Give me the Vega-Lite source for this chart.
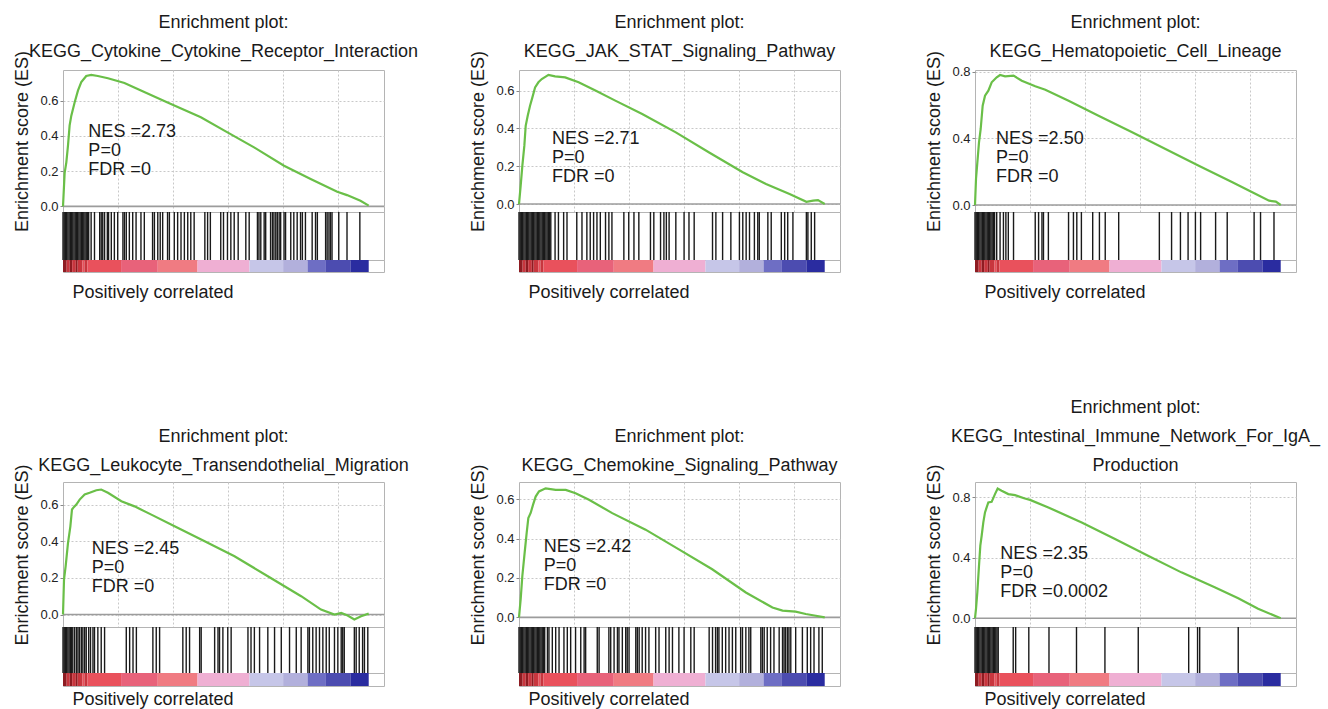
{
"$schema":"https://vega.github.io/schema/vega-lite/v6.json",
"padding":{"left":13,"top":13,"right":0,"bottom":0},
"background":"white",
"config":{
 "font":"Liberation Sans",
 "view":{"stroke":"#b4b4b4"},
 "axis":{"labelFont":"Liberation Sans","labelFontSize":13,"labelColor":"#222","titleFont":"Liberation Sans","titleFontSize":18,"titleFontWeight":"normal","titleColor":"#1a1a1a","domain":false,"tickColor":"#888","tickSize":3,"labelPadding":2,"gridColor":"#c8c8c8","gridDash":[2,2],"titlePadding":8},
 "title":{"font":"Liberation Sans","fontSize":18,"fontWeight":"normal","color":"#1a1a1a","lineHeight":29,"offset":-11,"anchor":"middle"},
 "text":{"font":"Liberation Sans","color":"#1a1a1a"}
},
"datasets":{
"es":[
{"p":1,"x":0,"y":0},{"p":1,"x":0.54,"y":0.19},{"p":1,"x":1.09,"y":0.25},{"p":1,"x":1.63,"y":0.345},{"p":1,"x":2.17,"y":0.46},{"p":1,"x":2.72,"y":0.515},{"p":1,"x":3.8,"y":0.59},{"p":1,"x":4.89,"y":0.657},{"p":1,"x":5.98,"y":0.705},{"p":1,"x":7.6,"y":0.74},{"p":1,"x":9.24,"y":0.746},{"p":1,"x":11.4,"y":0.74},{"p":1,"x":14.7,"y":0.727},{"p":1,"x":20.1,"y":0.7},{"p":1,"x":25.5,"y":0.657},{"p":1,"x":34.2,"y":0.59},{"p":1,"x":45.1,"y":0.506},{"p":1,"x":53.8,"y":0.42},{"p":1,"x":62.5,"y":0.335},{"p":1,"x":72.3,"y":0.231},{"p":1,"x":81.0,"y":0.155},{"p":1,"x":89.7,"y":0.083},{"p":1,"x":92.9,"y":0.064},{"p":1,"x":97.3,"y":0.032},{"p":1,"x":100,"y":0.004},
{"p":2,"x":0,"y":0},{"p":2,"x":0.55,"y":0.097},{"p":2,"x":1.1,"y":0.203},{"p":2,"x":1.75,"y":0.309},{"p":2,"x":2.19,"y":0.414},{"p":2,"x":2.85,"y":0.467},{"p":2,"x":3.61,"y":0.52},{"p":2,"x":4.38,"y":0.564},{"p":2,"x":5.26,"y":0.617},{"p":2,"x":6.35,"y":0.644},{"p":2,"x":7.45,"y":0.661},{"p":2,"x":9.64,"y":0.683},{"p":2,"x":11.8,"y":0.675},{"p":2,"x":15.1,"y":0.67},{"p":2,"x":19.5,"y":0.644},{"p":2,"x":25.0,"y":0.6},{"p":2,"x":31.5,"y":0.547},{"p":2,"x":40.3,"y":0.476},{"p":2,"x":51.3,"y":0.379},{"p":2,"x":62.2,"y":0.273},{"p":2,"x":73.2,"y":0.168},{"p":2,"x":80.8,"y":0.106},{"p":2,"x":88.5,"y":0.053},{"p":2,"x":94.0,"y":0.012},{"p":2,"x":96.2,"y":0.018},{"p":2,"x":97.8,"y":0.021},{"p":2,"x":100,"y":0},
{"p":3,"x":0,"y":0},{"p":3,"x":0.33,"y":0.156},{"p":3,"x":0.77,"y":0.256},{"p":3,"x":1.31,"y":0.376},{"p":3,"x":1.86,"y":0.456},{"p":3,"x":2.51,"y":0.596},{"p":3,"x":3.28,"y":0.656},{"p":3,"x":4.37,"y":0.686},{"p":3,"x":5.46,"y":0.736},{"p":3,"x":7.1,"y":0.766},{"p":3,"x":8.2,"y":0.78},{"p":3,"x":9.84,"y":0.772},{"p":3,"x":12.6,"y":0.776},{"p":3,"x":15.3,"y":0.746},{"p":3,"x":19.7,"y":0.712},{"p":3,"x":23.0,"y":0.692},{"p":3,"x":30.6,"y":0.626},{"p":3,"x":40.4,"y":0.536},{"p":3,"x":51.4,"y":0.436},{"p":3,"x":62.3,"y":0.336},{"p":3,"x":73.2,"y":0.236},{"p":3,"x":84.2,"y":0.136},{"p":3,"x":90.7,"y":0.076},{"p":3,"x":96.2,"y":0.026},{"p":3,"x":98.4,"y":0.02},{"p":3,"x":100,"y":0},
{"p":4,"x":0,"y":0},{"p":4,"x":0.33,"y":0.19},{"p":4,"x":0.87,"y":0.264},{"p":4,"x":1.63,"y":0.39},{"p":4,"x":2.4,"y":0.48},{"p":4,"x":2.94,"y":0.573},{"p":4,"x":3.6,"y":0.587},{"p":4,"x":4.36,"y":0.6},{"p":4,"x":5.45,"y":0.627},{"p":4,"x":7.08,"y":0.655},{"p":4,"x":8.71,"y":0.664},{"p":4,"x":10.9,"y":0.678},{"p":4,"x":12.5,"y":0.682},{"p":4,"x":14.7,"y":0.664},{"p":4,"x":19.1,"y":0.618},{"p":4,"x":23.4,"y":0.59},{"p":4,"x":28.9,"y":0.545},{"p":4,"x":36.5,"y":0.482},{"p":4,"x":45.2,"y":0.409},{"p":4,"x":56.1,"y":0.318},{"p":4,"x":67.0,"y":0.209},{"p":4,"x":77.9,"y":0.1},{"p":4,"x":84.4,"y":0.027},{"p":4,"x":88.8,"y":0},{"p":4,"x":91.0,"y":0.009},{"p":4,"x":93.1,"y":-0.005},{"p":4,"x":95.3,"y":-0.027},{"p":4,"x":97.5,"y":-0.009},{"p":4,"x":100,"y":0.005},
{"p":5,"x":0,"y":0},{"p":5,"x":0.55,"y":0.092},{"p":5,"x":1.09,"y":0.21},{"p":5,"x":1.85,"y":0.328},{"p":5,"x":2.51,"y":0.429},{"p":5,"x":3.05,"y":0.504},{"p":5,"x":3.82,"y":0.53},{"p":5,"x":4.58,"y":0.571},{"p":5,"x":5.45,"y":0.613},{"p":5,"x":6.54,"y":0.639},{"p":5,"x":8.72,"y":0.655},{"p":5,"x":12.0,"y":0.647},{"p":5,"x":15.3,"y":0.647},{"p":5,"x":18.5,"y":0.63},{"p":5,"x":22.9,"y":0.597},{"p":5,"x":30.5,"y":0.529},{"p":5,"x":41.4,"y":0.445},{"p":5,"x":52.3,"y":0.345},{"p":5,"x":63.2,"y":0.244},{"p":5,"x":74.2,"y":0.126},{"p":5,"x":82.9,"y":0.05},{"p":5,"x":86.2,"y":0.034},{"p":5,"x":90.5,"y":0.029},{"p":5,"x":93.8,"y":0.017},{"p":5,"x":97.1,"y":0.008},{"p":5,"x":100,"y":0},
{"p":6,"x":0,"y":0},{"p":6,"x":0.33,"y":0.062},{"p":6,"x":0.76,"y":0.171},{"p":6,"x":1.31,"y":0.347},{"p":6,"x":1.74,"y":0.479},{"p":6,"x":2.18,"y":0.545},{"p":6,"x":2.72,"y":0.633},{"p":6,"x":3.27,"y":0.699},{"p":6,"x":3.81,"y":0.732},{"p":6,"x":4.36,"y":0.765},{"p":6,"x":5.45,"y":0.769},{"p":6,"x":6.54,"y":0.82},{"p":6,"x":7.41,"y":0.857},{"p":6,"x":8.71,"y":0.842},{"p":6,"x":10.9,"y":0.82},{"p":6,"x":13.1,"y":0.813},{"p":6,"x":16.3,"y":0.791},{"p":6,"x":18.0,"y":0.782},{"p":6,"x":24.0,"y":0.732},{"p":6,"x":34.9,"y":0.633},{"p":6,"x":45.8,"y":0.523},{"p":6,"x":56.6,"y":0.413},{"p":6,"x":67.5,"y":0.303},{"p":6,"x":78.4,"y":0.204},{"p":6,"x":86.1,"y":0.132},{"p":6,"x":92.6,"y":0.062},{"p":6,"x":100,"y":0}
],
"hits":[
{"p":1,"x":0},{"p":1,"x":0.4},{"p":1,"x":0.8},{"p":1,"x":1.2},{"p":1,"x":1.6},{"p":1,"x":2},{"p":1,"x":2.4},{"p":1,"x":2.8},{"p":1,"x":3.2},{"p":1,"x":3.6},{"p":1,"x":4},{"p":1,"x":4.4},{"p":1,"x":4.8},{"p":1,"x":5.2},{"p":1,"x":5.6},{"p":1,"x":6},{"p":1,"x":6.4},{"p":1,"x":6.8},{"p":1,"x":7.2},{"p":1,"x":7.6},{"p":1,"x":8},{"p":1,"x":8.4},
{"p":1,"x":9.2},{"p":1,"x":10.3},{"p":1,"x":12.0},{"p":1,"x":12.5},{"p":1,"x":13.0},{"p":1,"x":13.6},{"p":1,"x":14.5},{"p":1,"x":14.9},{"p":1,"x":15.8},{"p":1,"x":16.8},{"p":1,"x":17.9},{"p":1,"x":19.6},{"p":1,"x":20.1},{"p":1,"x":20.7},{"p":1,"x":21.7},{"p":1,"x":22.8},{"p":1,"x":23.9},{"p":1,"x":25.5},{"p":1,"x":26.6},{"p":1,"x":29.3},{"p":1,"x":29.9},{"p":1,"x":31.0},{"p":1,"x":31.8},{"p":1,"x":32.6},{"p":1,"x":34.2},{"p":1,"x":34.8},{"p":1,"x":36.4},{"p":1,"x":37.5},{"p":1,"x":38.6},{"p":1,"x":39.7},{"p":1,"x":40.8},{"p":1,"x":41.8},{"p":1,"x":42.9},{"p":1,"x":46.4},{"p":1,"x":47.3},{"p":1,"x":48.2},{"p":1,"x":51.6},{"p":1,"x":52.5},{"p":1,"x":53.8},{"p":1,"x":54.9},{"p":1,"x":56.0},{"p":1,"x":57.3},{"p":1,"x":59.8},{"p":1,"x":60.9},{"p":1,"x":63.6},{"p":1,"x":64.1},{"p":1,"x":64.7},{"p":1,"x":65.8},{"p":1,"x":66.3},{"p":1,"x":67.9},{"p":1,"x":68.5},{"p":1,"x":69.0},{"p":1,"x":69.6},{"p":1,"x":70.1},{"p":1,"x":70.7},{"p":1,"x":71.2},{"p":1,"x":72.3},{"p":1,"x":72.8},{"p":1,"x":74.5},{"p":1,"x":75.5},{"p":1,"x":76.6},{"p":1,"x":77.7},{"p":1,"x":78.3},{"p":1,"x":79.3},{"p":1,"x":81.5},{"p":1,"x":82.6},{"p":1,"x":83.2},{"p":1,"x":85.9},{"p":1,"x":86.4},{"p":1,"x":87.0},{"p":1,"x":87.5},{"p":1,"x":88.0},{"p":1,"x":90.2},{"p":1,"x":92.9},{"p":1,"x":97.1},
{"p":2,"x":0},{"p":2,"x":0.4},{"p":2,"x":0.8},{"p":2,"x":1.2},{"p":2,"x":1.6},{"p":2,"x":2},{"p":2,"x":2.4},{"p":2,"x":2.8},{"p":2,"x":3.2},{"p":2,"x":3.6},{"p":2,"x":4},{"p":2,"x":4.4},{"p":2,"x":4.8},{"p":2,"x":5.2},{"p":2,"x":5.6},{"p":2,"x":6},{"p":2,"x":6.4},{"p":2,"x":6.8},{"p":2,"x":7.2},{"p":2,"x":7.6},{"p":2,"x":8},{"p":2,"x":8.4},{"p":2,"x":8.8},{"p":2,"x":9.2},{"p":2,"x":9.6},{"p":2,"x":10},{"p":2,"x":10.4},
{"p":2,"x":11.8},{"p":2,"x":12.9},{"p":2,"x":14.6},{"p":2,"x":15.7},{"p":2,"x":18.9},{"p":2,"x":20.6},{"p":2,"x":22.2},{"p":2,"x":23.3},{"p":2,"x":24.4},{"p":2,"x":25.5},{"p":2,"x":26.6},{"p":2,"x":28.3},{"p":2,"x":29.4},{"p":2,"x":30.4},{"p":2,"x":34.3},{"p":2,"x":35.9},{"p":2,"x":37.6},{"p":2,"x":39.2},{"p":2,"x":43.0},{"p":2,"x":44.1},{"p":2,"x":46.3},{"p":2,"x":47.4},{"p":2,"x":48.2},{"p":2,"x":49.1},{"p":2,"x":51.3},{"p":2,"x":54.0},{"p":2,"x":55.6},{"p":2,"x":57.3},{"p":2,"x":63.3},{"p":2,"x":64.4},{"p":2,"x":66.6},{"p":2,"x":69.3},{"p":2,"x":72.1},{"p":2,"x":73.2},{"p":2,"x":74.3},{"p":2,"x":75.4},{"p":2,"x":77.0},{"p":2,"x":78.1},{"p":2,"x":78.6},{"p":2,"x":81.4},{"p":2,"x":82.5},{"p":2,"x":85.8},{"p":2,"x":86.9},{"p":2,"x":87.9},{"p":2,"x":89.6},{"p":2,"x":94.0},{"p":2,"x":94.5},{"p":2,"x":95.6},{"p":2,"x":96.7},
{"p":3,"x":0},{"p":3,"x":0.4},{"p":3,"x":0.8},{"p":3,"x":1.2},{"p":3,"x":1.6},{"p":3,"x":2},{"p":3,"x":2.4},{"p":3,"x":2.8},{"p":3,"x":3.2},{"p":3,"x":3.6},{"p":3,"x":4},{"p":3,"x":4.4},{"p":3,"x":4.8},{"p":3,"x":5.2},{"p":3,"x":5.6},{"p":3,"x":6},{"p":3,"x":6.4},
{"p":3,"x":7.1},{"p":3,"x":8.2},{"p":3,"x":9.3},{"p":3,"x":10.1},{"p":3,"x":10.9},{"p":3,"x":12.6},{"p":3,"x":19.7},{"p":3,"x":20.8},{"p":3,"x":21.9},{"p":3,"x":22.4},{"p":3,"x":24.0},{"p":3,"x":30.6},{"p":3,"x":32.2},{"p":3,"x":33.3},{"p":3,"x":34.8},{"p":3,"x":38.5},{"p":3,"x":40.7},{"p":3,"x":42.6},{"p":3,"x":47.0},{"p":3,"x":60.3},{"p":3,"x":64.3},{"p":3,"x":67.2},{"p":3,"x":69.7},{"p":3,"x":72.1},{"p":3,"x":73.8},{"p":3,"x":78.7},{"p":3,"x":82.5},{"p":3,"x":91.3},{"p":3,"x":93.4},{"p":3,"x":97.8},
{"p":4,"x":0},{"p":4,"x":0.4},{"p":4,"x":0.8},{"p":4,"x":1.2},{"p":4,"x":1.6},{"p":4,"x":2},{"p":4,"x":2.4},{"p":4,"x":2.8},{"p":4,"x":3.2},
{"p":4,"x":3.8},{"p":4,"x":4.4},{"p":4,"x":4.9},{"p":4,"x":5.4},{"p":4,"x":6.0},{"p":4,"x":6.5},{"p":4,"x":7.1},{"p":4,"x":7.6},{"p":4,"x":8.4},{"p":4,"x":9.0},{"p":4,"x":9.8},{"p":4,"x":10.3},{"p":4,"x":11.4},{"p":4,"x":12.5},{"p":4,"x":13.6},{"p":4,"x":20.7},{"p":4,"x":21.8},{"p":4,"x":22.9},{"p":4,"x":24.0},{"p":4,"x":29.4},{"p":4,"x":30.5},{"p":4,"x":31.6},{"p":4,"x":39.2},{"p":4,"x":40.3},{"p":4,"x":41.4},{"p":4,"x":44.7},{"p":4,"x":45.2},{"p":4,"x":49.6},{"p":4,"x":50.7},{"p":4,"x":51.2},{"p":4,"x":52.3},{"p":4,"x":53.9},{"p":4,"x":55.0},{"p":4,"x":60.5},{"p":4,"x":61.5},{"p":4,"x":62.6},{"p":4,"x":64.3},{"p":4,"x":67.0},{"p":4,"x":69.2},{"p":4,"x":71.4},{"p":4,"x":74.1},{"p":4,"x":76.3},{"p":4,"x":77.9},{"p":4,"x":80.1},{"p":4,"x":80.6},{"p":4,"x":81.7},{"p":4,"x":82.8},{"p":4,"x":83.9},{"p":4,"x":85.0},{"p":4,"x":86.1},{"p":4,"x":87.1},{"p":4,"x":88.8},{"p":4,"x":89.9},{"p":4,"x":91.0},{"p":4,"x":91.5},{"p":4,"x":92.0},{"p":4,"x":95.3},{"p":4,"x":95.9},{"p":4,"x":96.9},{"p":4,"x":98.0},{"p":4,"x":98.6},{"p":4,"x":99.7},
{"p":5,"x":0},{"p":5,"x":0.4},{"p":5,"x":0.8},{"p":5,"x":1.2},{"p":5,"x":1.6},{"p":5,"x":2},{"p":5,"x":2.4},{"p":5,"x":2.8},{"p":5,"x":3.2},{"p":5,"x":3.6},{"p":5,"x":4},{"p":5,"x":4.4},{"p":5,"x":4.8},{"p":5,"x":5.2},{"p":5,"x":5.6},{"p":5,"x":6},{"p":5,"x":6.4},{"p":5,"x":6.8},{"p":5,"x":7.2},{"p":5,"x":7.6},{"p":5,"x":8},{"p":5,"x":8.4},
{"p":5,"x":9.3},{"p":5,"x":9.8},{"p":5,"x":10.9},{"p":5,"x":12.0},{"p":5,"x":13.1},{"p":5,"x":14.7},{"p":5,"x":15.8},{"p":5,"x":16.9},{"p":5,"x":18.5},{"p":5,"x":20.2},{"p":5,"x":21.3},{"p":5,"x":21.8},{"p":5,"x":25.6},{"p":5,"x":26.2},{"p":5,"x":29.4},{"p":5,"x":30.0},{"p":5,"x":31.1},{"p":5,"x":32.2},{"p":5,"x":32.7},{"p":5,"x":33.8},{"p":5,"x":34.9},{"p":5,"x":35.4},{"p":5,"x":36.0},{"p":5,"x":38.2},{"p":5,"x":38.7},{"p":5,"x":39.3},{"p":5,"x":40.3},{"p":5,"x":41.4},{"p":5,"x":42.5},{"p":5,"x":44.7},{"p":5,"x":45.8},{"p":5,"x":48.0},{"p":5,"x":49.1},{"p":5,"x":50.2},{"p":5,"x":52.3},{"p":5,"x":54.0},{"p":5,"x":56.2},{"p":5,"x":57.3},{"p":5,"x":62.2},{"p":5,"x":63.3},{"p":5,"x":64.3},{"p":5,"x":64.9},{"p":5,"x":65.4},{"p":5,"x":66.5},{"p":5,"x":67.6},{"p":5,"x":68.7},{"p":5,"x":69.8},{"p":5,"x":70.9},{"p":5,"x":72.5},{"p":5,"x":73.1},{"p":5,"x":74.2},{"p":5,"x":75.2},{"p":5,"x":75.8},{"p":5,"x":79.1},{"p":5,"x":79.6},{"p":5,"x":80.2},{"p":5,"x":81.2},{"p":5,"x":82.3},{"p":5,"x":83.4},{"p":5,"x":85.1},{"p":5,"x":86.2},{"p":5,"x":86.7},{"p":5,"x":87.2},{"p":5,"x":87.8},{"p":5,"x":88.3},{"p":5,"x":88.9},{"p":5,"x":90.5},{"p":5,"x":92.7},{"p":5,"x":94.3},{"p":5,"x":95.4},{"p":5,"x":96.5},{"p":5,"x":98.1},{"p":5,"x":99.2},
{"p":6,"x":0},{"p":6,"x":0.4},{"p":6,"x":0.8},{"p":6,"x":1.2},{"p":6,"x":1.6},{"p":6,"x":2},{"p":6,"x":2.4},{"p":6,"x":2.8},{"p":6,"x":3.2},{"p":6,"x":3.6},{"p":6,"x":4},{"p":6,"x":4.4},{"p":6,"x":4.8},{"p":6,"x":5.2},{"p":6,"x":5.6},{"p":6,"x":6},{"p":6,"x":6.4},{"p":6,"x":6.8},{"p":6,"x":7.2},{"p":6,"x":7.6},
{"p":6,"x":12.5},{"p":6,"x":13.3},{"p":6,"x":17.6},{"p":6,"x":24.2},{"p":6,"x":33.2},{"p":6,"x":42.5},{"p":6,"x":53.4},{"p":6,"x":69.9},{"p":6,"x":72.8},{"p":6,"x":73.5},{"p":6,"x":86.1}
],
"bar":[
{"x":0,"x2":1.2,"c":"a"},{"x":1.2,"x2":2.2,"c":"b"},{"x":2.2,"x2":3,"c":"a"},{"x":3,"x2":4.2,"c":"b"},{"x":4.2,"x2":4.8,"c":"a"},{"x":4.8,"x2":6.4,"c":"b"},{"x":6.4,"x2":7,"c":"c"},{"x":7,"x2":8,"c":"b"},{"x":8,"x2":19,"c":"c"},{"x":19,"x2":31,"c":"d"},{"x":31,"x2":44,"c":"e"},{"x":44,"x2":61,"c":"f"},{"x":61,"x2":72,"c":"g"},{"x":72,"x2":80,"c":"h"},{"x":80,"x2":86,"c":"i"},{"x":86,"x2":94,"c":"j"},{"x":94,"x2":100,"c":"k"}
],
"ann":[
{"p":1,"x":8.3,"y":0.392,"t":["NES =2.73","P=0","FDR =0"]},
{"p":2,"x":10.8,"y":0.318,"t":["NES =2.71","P=0","FDR =0"]},
{"p":3,"x":6.9,"y":0.366,"t":["NES =2.50","P=0","FDR =0"]},
{"p":4,"x":9.4,"y":0.33,"t":["NES =2.45","P=0","FDR =0"]},
{"p":5,"x":8.1,"y":0.333,"t":["NES =2.42","P=0","FDR =0"]},
{"p":6,"x":8.3,"y":0.392,"t":["NES =2.35","P=0","FDR =0.0002"]}
]
},
"columns":3,
"bounds":"flush",
"spacing":{"row":0,"column":135},
"concat":[
{"width":321,"height":142,"title":{"text":["Enrichment plot:","KEGG_Cytokine_Cytokine_Receptor_Interaction"]},
 "layer":[
  {"data":{"values":[{}]},"mark":{"type":"rule","color":"#9c9c9c","strokeWidth":1.6},"encoding":{"y":{"datum":0}}},
  {"data":{"name":"es"},"transform":[{"filter":"datum.p==1"}],"mark":{"type":"line","color":"#6abf48","strokeWidth":2.2},
   "encoding":{"x":{"field":"x","type":"quantitative","scale":{"domain":[0,105],"nice":false,"zero":false},"axis":{"values":[18,36,54,72,90],"grid":true,"labels":false,"ticks":false,"title":null}},
   "y":{"field":"y","type":"quantitative","scale":{"domain":[-0.032,0.774],"nice":false,"zero":false},"axis":{"values":[0,0.1,0.2,0.3,0.4,0.5,0.6,0.7],"grid":true,"title":"Enrichment score (ES)","labelExpr":"round(datum.value*10)%2==0 ? format(datum.value,'.1f') : ''"}}}},
  {"data":{"name":"ann"},"transform":[{"filter":"datum.p==1"}],"mark":{"type":"text","align":"left","baseline":"alphabetic","fontSize":18,"lineHeight":19},"encoding":{"x":{"field":"x","type":"quantitative"},"y":{"field":"y","type":"quantitative"},"text":{"field":"t"}}}
 ]},
{"width":321,"height":142,"title":{"text":["Enrichment plot:","KEGG_JAK_STAT_Signaling_Pathway"]},
 "layer":[
  {"data":{"values":[{}]},"mark":{"type":"rule","color":"#9c9c9c","strokeWidth":1.6},"encoding":{"y":{"datum":0}}},
  {"data":{"name":"es"},"transform":[{"filter":"datum.p==2"}],"mark":{"type":"line","color":"#6abf48","strokeWidth":2.2},
   "encoding":{"x":{"field":"x","type":"quantitative","scale":{"domain":[0,105],"nice":false,"zero":false},"axis":{"values":[18,36,54,72,90],"grid":true,"labels":false,"ticks":false,"title":null}},
   "y":{"field":"y","type":"quantitative","scale":{"domain":[-0.042,0.709],"nice":false,"zero":false},"axis":{"values":[0,0.1,0.2,0.3,0.4,0.5,0.6,0.7],"grid":true,"title":"Enrichment score (ES)","labelExpr":"round(datum.value*10)%2==0 ? format(datum.value,'.1f') : ''"}}}},
  {"data":{"name":"ann"},"transform":[{"filter":"datum.p==2"}],"mark":{"type":"text","align":"left","baseline":"alphabetic","fontSize":18,"lineHeight":19},"encoding":{"x":{"field":"x","type":"quantitative"},"y":{"field":"y","type":"quantitative"},"text":{"field":"t"}}}
 ]},
{"width":321,"height":142,"title":{"text":["Enrichment plot:","KEGG_Hematopoietic_Cell_Lineage"]},
 "layer":[
  {"data":{"values":[{}]},"mark":{"type":"rule","color":"#9c9c9c","strokeWidth":1.6},"encoding":{"y":{"datum":0}}},
  {"data":{"name":"es"},"transform":[{"filter":"datum.p==3"}],"mark":{"type":"line","color":"#6abf48","strokeWidth":2.2},
   "encoding":{"x":{"field":"x","type":"quantitative","scale":{"domain":[0,105],"nice":false,"zero":false},"axis":{"values":[18,36,54,72,90],"grid":true,"labels":false,"ticks":false,"title":null}},
   "y":{"field":"y","type":"quantitative","scale":{"domain":[-0.042,0.81],"nice":false,"zero":false},"axis":{"values":[0,0.1,0.2,0.3,0.4,0.5,0.6,0.7,0.8],"grid":true,"title":"Enrichment score (ES)","labelExpr":"round(datum.value*10)%2==0 ? format(datum.value,'.1f') : ''"}}}},
  {"data":{"name":"ann"},"transform":[{"filter":"datum.p==3"}],"mark":{"type":"text","align":"left","baseline":"alphabetic","fontSize":18,"lineHeight":19},"encoding":{"x":{"field":"x","type":"quantitative"},"y":{"field":"y","type":"quantitative"},"text":{"field":"t"}}}
 ]},
{"width":321,"height":48,"data":{"name":"hits"},"transform":[{"filter":"datum.p==1"}],"mark":{"type":"rule","color":"#1a1a1a","strokeWidth":1.4},"encoding":{"x":{"field":"x","type":"quantitative","scale":{"domain":[0,105],"nice":false,"zero":false},"axis":null}}},
{"width":321,"height":48,"data":{"name":"hits"},"transform":[{"filter":"datum.p==2"}],"mark":{"type":"rule","color":"#1a1a1a","strokeWidth":1.4},"encoding":{"x":{"field":"x","type":"quantitative","scale":{"domain":[0,105],"nice":false,"zero":false},"axis":null}}},
{"width":321,"height":48,"data":{"name":"hits"},"transform":[{"filter":"datum.p==3"}],"mark":{"type":"rule","color":"#1a1a1a","strokeWidth":1.4},"encoding":{"x":{"field":"x","type":"quantitative","scale":{"domain":[0,105],"nice":false,"zero":false},"axis":null}}},
{"width":321,"height":12,"data":{"name":"bar"},"mark":"rect","encoding":{"x":{"field":"x","type":"quantitative","scale":{"domain":[0,105],"nice":false,"zero":false},"axis":{"title":"Positively correlated","labels":false,"ticks":false,"grid":false,"titleAnchor":"start","titleAlign":"left","titleX":9,"titleY":25,"titleBaseline":"alphabetic"}},"x2":{"field":"x2"},"color":{"field":"c","type":"nominal","scale":{"domain":["a","b","c","d","e","f","g","h","i","j","k"],"range":["#8e1c22","#c8363e","#e9515c","#e8627a","#f07b82","#efafd3","#c6c6e8","#b2b0dc","#6e6ec4","#4c4cb0","#2a2ca0"]},"legend":null}}},
{"width":321,"height":12,"data":{"name":"bar"},"mark":"rect","encoding":{"x":{"field":"x","type":"quantitative","scale":{"domain":[0,105],"nice":false,"zero":false},"axis":{"title":"Positively correlated","labels":false,"ticks":false,"grid":false,"titleAnchor":"start","titleAlign":"left","titleX":9,"titleY":25,"titleBaseline":"alphabetic"}},"x2":{"field":"x2"},"color":{"field":"c","type":"nominal","scale":{"domain":["a","b","c","d","e","f","g","h","i","j","k"],"range":["#8e1c22","#c8363e","#e9515c","#e8627a","#f07b82","#efafd3","#c6c6e8","#b2b0dc","#6e6ec4","#4c4cb0","#2a2ca0"]},"legend":null}}},
{"width":321,"height":12,"data":{"name":"bar"},"mark":"rect","encoding":{"x":{"field":"x","type":"quantitative","scale":{"domain":[0,105],"nice":false,"zero":false},"axis":{"title":"Positively correlated","labels":false,"ticks":false,"grid":false,"titleAnchor":"start","titleAlign":"left","titleX":9,"titleY":25,"titleBaseline":"alphabetic"}},"x2":{"field":"x2"},"color":{"field":"c","type":"nominal","scale":{"domain":["a","b","c","d","e","f","g","h","i","j","k"],"range":["#8e1c22","#c8363e","#e9515c","#e8627a","#f07b82","#efafd3","#c6c6e8","#b2b0dc","#6e6ec4","#4c4cb0","#2a2ca0"]},"legend":null}}},
{"width":321,"height":210,"data":{"values":[{}]},"mark":{"type":"text","text":""},"encoding":{},"view":{"stroke":null}},
{"width":321,"height":210,"data":{"values":[{}]},"mark":{"type":"text","text":""},"encoding":{},"view":{"stroke":null}},
{"width":321,"height":210,"data":{"values":[{}]},"mark":{"type":"text","text":""},"encoding":{},"view":{"stroke":null}},
{"width":321,"height":145,"title":{"text":["Enrichment plot:","KEGG_Leukocyte_Transendothelial_Migration"]},
 "layer":[
  {"data":{"values":[{}]},"mark":{"type":"rule","color":"#9c9c9c","strokeWidth":1.6},"encoding":{"y":{"datum":0}}},
  {"data":{"name":"es"},"transform":[{"filter":"datum.p==4"}],"mark":{"type":"line","color":"#6abf48","strokeWidth":2.2},
   "encoding":{"x":{"field":"x","type":"quantitative","scale":{"domain":[0,105],"nice":false,"zero":false},"axis":{"values":[18,36,54,72,90],"grid":true,"labels":false,"ticks":false,"title":null}},
   "y":{"field":"y","type":"quantitative","scale":{"domain":[-0.068,0.723],"nice":false,"zero":false},"axis":{"values":[0,0.1,0.2,0.3,0.4,0.5,0.6,0.7],"grid":true,"title":"Enrichment score (ES)","labelExpr":"round(datum.value*10)%2==0 ? format(datum.value,'.1f') : ''"}}}},
  {"data":{"name":"ann"},"transform":[{"filter":"datum.p==4"}],"mark":{"type":"text","align":"left","baseline":"alphabetic","fontSize":18,"lineHeight":19},"encoding":{"x":{"field":"x","type":"quantitative"},"y":{"field":"y","type":"quantitative"},"text":{"field":"t"}}}
 ]},
{"width":321,"height":145,"title":{"text":["Enrichment plot:","KEGG_Chemokine_Signaling_Pathway"]},
 "layer":[
  {"data":{"values":[{}]},"mark":{"type":"rule","color":"#9c9c9c","strokeWidth":1.6},"encoding":{"y":{"datum":0}}},
  {"data":{"name":"es"},"transform":[{"filter":"datum.p==5"}],"mark":{"type":"line","color":"#6abf48","strokeWidth":2.2},
   "encoding":{"x":{"field":"x","type":"quantitative","scale":{"domain":[0,105],"nice":false,"zero":false},"axis":{"values":[18,36,54,72,90],"grid":true,"labels":false,"ticks":false,"title":null}},
   "y":{"field":"y","type":"quantitative","scale":{"domain":[-0.049,0.687],"nice":false,"zero":false},"axis":{"values":[0,0.1,0.2,0.3,0.4,0.5,0.6],"grid":true,"title":"Enrichment score (ES)","labelExpr":"round(datum.value*10)%2==0 ? format(datum.value,'.1f') : ''"}}}},
  {"data":{"name":"ann"},"transform":[{"filter":"datum.p==5"}],"mark":{"type":"text","align":"left","baseline":"alphabetic","fontSize":18,"lineHeight":19},"encoding":{"x":{"field":"x","type":"quantitative"},"y":{"field":"y","type":"quantitative"},"text":{"field":"t"}}}
 ]},
{"width":321,"height":145,"title":{"text":["Enrichment plot:","KEGG_Intestinal_Immune_Network_For_IgA_","Production"]},
 "layer":[
  {"data":{"values":[{}]},"mark":{"type":"rule","color":"#9c9c9c","strokeWidth":1.6},"encoding":{"y":{"datum":0}}},
  {"data":{"name":"es"},"transform":[{"filter":"datum.p==6"}],"mark":{"type":"line","color":"#6abf48","strokeWidth":2.2},
   "encoding":{"x":{"field":"x","type":"quantitative","scale":{"domain":[0,105],"nice":false,"zero":false},"axis":{"values":[18,36,54,72,90],"grid":true,"labels":false,"ticks":false,"title":null}},
   "y":{"field":"y","type":"quantitative","scale":{"domain":[-0.058,0.9],"nice":false,"zero":false},"axis":{"values":[0,0.1,0.2,0.3,0.4,0.5,0.6,0.7,0.8],"grid":true,"title":"Enrichment score (ES)","labelExpr":"round(datum.value*10)%2==0 ? format(datum.value,'.1f') : ''"}}}},
  {"data":{"name":"ann"},"transform":[{"filter":"datum.p==6"}],"mark":{"type":"text","align":"left","baseline":"alphabetic","fontSize":18,"lineHeight":19},"encoding":{"x":{"field":"x","type":"quantitative"},"y":{"field":"y","type":"quantitative"},"text":{"field":"t"}}}
 ]},
{"width":321,"height":46,"data":{"name":"hits"},"transform":[{"filter":"datum.p==4"}],"mark":{"type":"rule","color":"#1a1a1a","strokeWidth":1.4},"encoding":{"x":{"field":"x","type":"quantitative","scale":{"domain":[0,105],"nice":false,"zero":false},"axis":null}}},
{"width":321,"height":46,"data":{"name":"hits"},"transform":[{"filter":"datum.p==5"}],"mark":{"type":"rule","color":"#1a1a1a","strokeWidth":1.4},"encoding":{"x":{"field":"x","type":"quantitative","scale":{"domain":[0,105],"nice":false,"zero":false},"axis":null}}},
{"width":321,"height":46,"data":{"name":"hits"},"transform":[{"filter":"datum.p==6"}],"mark":{"type":"rule","color":"#1a1a1a","strokeWidth":1.4},"encoding":{"x":{"field":"x","type":"quantitative","scale":{"domain":[0,105],"nice":false,"zero":false},"axis":null}}},
{"width":321,"height":13,"data":{"name":"bar"},"mark":"rect","encoding":{"x":{"field":"x","type":"quantitative","scale":{"domain":[0,105],"nice":false,"zero":false},"axis":{"title":"Positively correlated","labels":false,"ticks":false,"grid":false,"titleAnchor":"start","titleAlign":"left","titleX":9,"titleY":18,"titleBaseline":"alphabetic"}},"x2":{"field":"x2"},"color":{"field":"c","type":"nominal","scale":{"domain":["a","b","c","d","e","f","g","h","i","j","k"],"range":["#8e1c22","#c8363e","#e9515c","#e8627a","#f07b82","#efafd3","#c6c6e8","#b2b0dc","#6e6ec4","#4c4cb0","#2a2ca0"]},"legend":null}}},
{"width":321,"height":13,"data":{"name":"bar"},"mark":"rect","encoding":{"x":{"field":"x","type":"quantitative","scale":{"domain":[0,105],"nice":false,"zero":false},"axis":{"title":"Positively correlated","labels":false,"ticks":false,"grid":false,"titleAnchor":"start","titleAlign":"left","titleX":9,"titleY":18,"titleBaseline":"alphabetic"}},"x2":{"field":"x2"},"color":{"field":"c","type":"nominal","scale":{"domain":["a","b","c","d","e","f","g","h","i","j","k"],"range":["#8e1c22","#c8363e","#e9515c","#e8627a","#f07b82","#efafd3","#c6c6e8","#b2b0dc","#6e6ec4","#4c4cb0","#2a2ca0"]},"legend":null}}},
{"width":321,"height":13,"data":{"name":"bar"},"mark":"rect","encoding":{"x":{"field":"x","type":"quantitative","scale":{"domain":[0,105],"nice":false,"zero":false},"axis":{"title":"Positively correlated","labels":false,"ticks":false,"grid":false,"titleAnchor":"start","titleAlign":"left","titleX":9,"titleY":18,"titleBaseline":"alphabetic"}},"x2":{"field":"x2"},"color":{"field":"c","type":"nominal","scale":{"domain":["a","b","c","d","e","f","g","h","i","j","k"],"range":["#8e1c22","#c8363e","#e9515c","#e8627a","#f07b82","#efafd3","#c6c6e8","#b2b0dc","#6e6ec4","#4c4cb0","#2a2ca0"]},"legend":null}}}
]
}
